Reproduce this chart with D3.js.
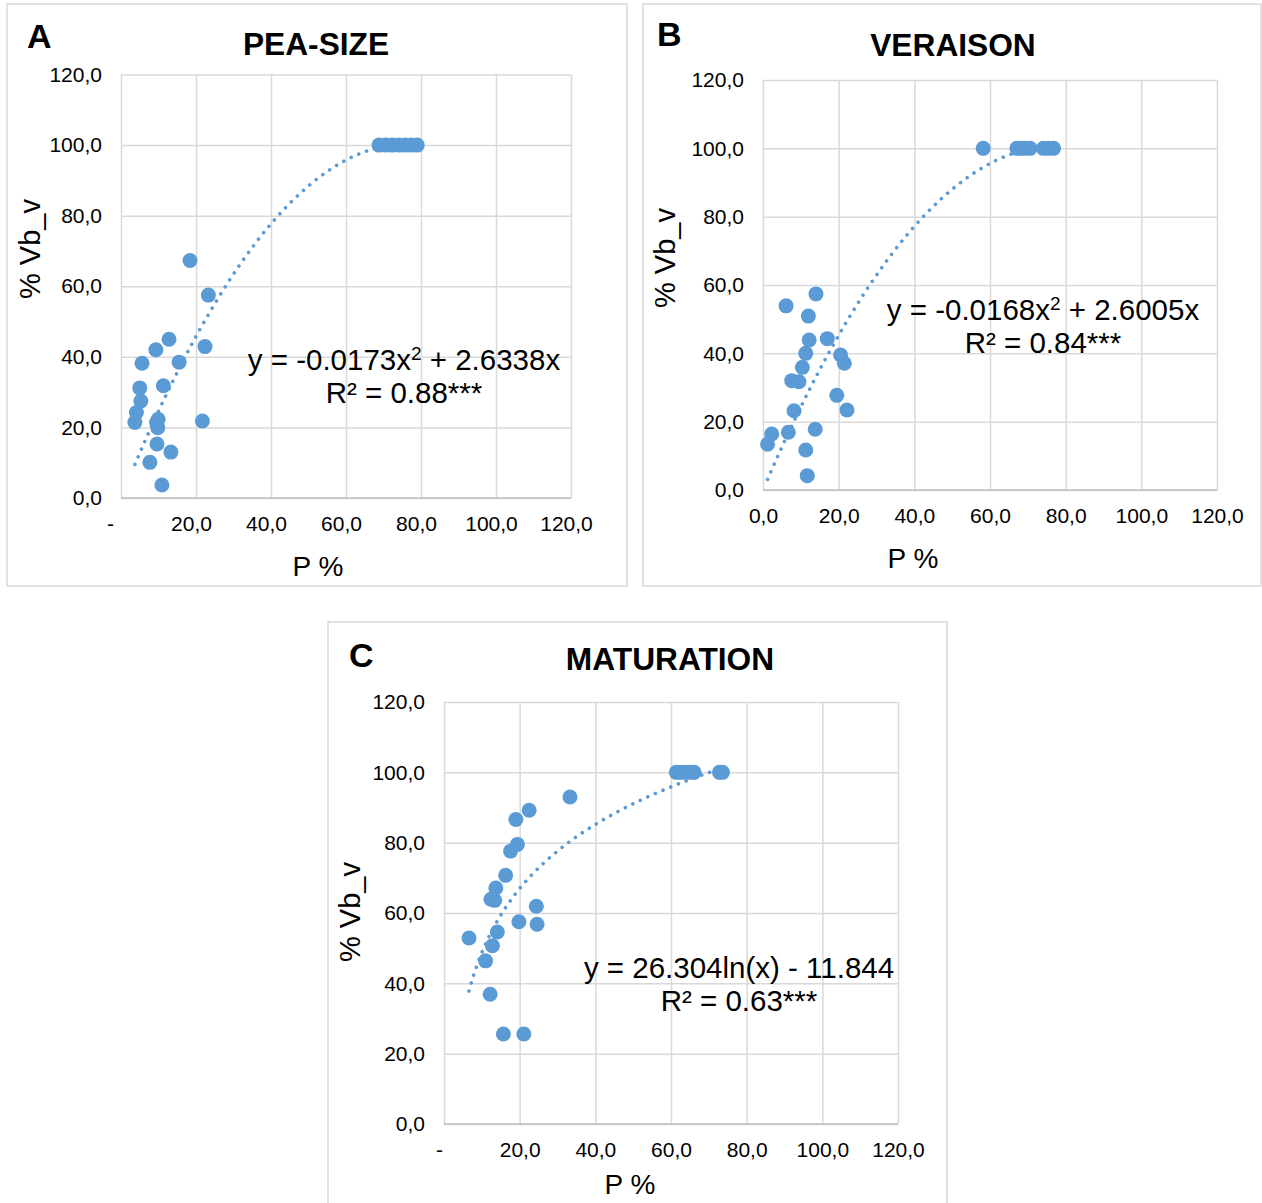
<!DOCTYPE html>
<html><head><meta charset="utf-8">
<script src="https://cdn.jsdelivr.net/npm/d3@7"></script>
<style>
body{margin:0;background:#fff}
text{font-family:"Liberation Sans",Arial,sans-serif;fill:#000}
</style>
</head><body>
<svg id="chart" width="1262" height="1203"></svg>
<script>
// ---------- data ----------
const xTicks = [0, 20, 40, 60, 80, 100, 120];
const yTicks = [0, 20, 40, 60, 80, 100, 120];

const peaSizeX = [18.4, 23.3, 12.8, 9.3, 5.6, 15.5, 22.4, 5.0, 11.3, 5.3, 4.1, 3.7, 9.9, 9.5, 9.8, 21.7, 9.6, 13.3, 7.7, 10.9,
                  68.8, 70.6, 72.3, 74.1, 75.8, 77.4, 79.0];
const peaSizeY = [67.3, 57.5, 45.0, 42.0, 38.2, 38.5, 42.9, 31.2, 31.8, 27.5, 24.2, 21.4, 22.3, 21.4, 19.9, 21.8, 15.3, 13.0, 10.1, 3.7,
                  100, 100, 100, 100, 100, 100, 100];
const peaSizeFit = [-0.0173, 2.6338];   // y = a x^2 + b x

const veraisonX = [14.0, 6.1, 12.0, 12.2, 17.0, 11.3, 20.5, 21.5, 10.4, 7.6, 9.5, 19.5, 8.2, 22.2, 2.3, 6.7, 13.8, 1.2, 11.3, 11.7,
                   58.2, 67.1, 68.2, 69.3, 70.6, 74.1, 75.4, 76.8];
const veraisonY = [57.4, 53.9, 50.9, 43.9, 44.3, 40.0, 39.5, 37.1, 35.9, 32.0, 31.7, 27.7, 23.2, 23.4, 16.4, 16.9, 17.8, 13.4, 11.7, 4.2,
                   100, 100, 100, 100, 100, 100, 100, 100];
const veraisonFit = [-0.0168, 2.6005];

const maturationX = [33.3, 22.5, 19.0, 19.4, 17.6, 16.3, 13.7, 12.4, 13.4, 24.4, 19.8, 24.6, 6.6, 14.1, 12.8, 11.0, 12.2, 15.7, 21.1,
                     61.4, 62.5, 63.6, 64.8, 66.1, 72.8, 73.6];
const maturationY = [93.0, 89.2, 86.6, 79.5, 77.6, 70.7, 67.1, 63.9, 63.6, 61.9, 57.5, 56.8, 52.9, 54.6, 50.7, 46.4, 36.9, 25.6, 25.6,
                     100, 100, 100, 100, 100, 100, 100];
const maturationFit = [26.304, -11.844]; // y = a ln(x) + b

// ---------- drawing ----------
const svg = d3.select("#chart");
const blue = "#5B9BD5";
const fmt = d => d.toFixed(1).replace(".", ",");

function drawPanel(p) {
  const g = svg.append("g");
  g.append("rect")
    .attr("x", p.frame[0]).attr("y", p.frame[1]).attr("width", p.frame[2]).attr("height", p.frame[3])
    .attr("fill", "#fff").attr("stroke", "#D9D9D9").attr("stroke-width", 1.5);

  const x = d3.scaleLinear().domain([0, 120]).range([p.L, p.R]);
  const y = d3.scaleLinear().domain([0, 120]).range([p.B, p.T]);

  // x grid + tick labels
  const xa = g.append("g").attr("transform", `translate(0,${p.B})`)
    .call(d3.axisBottom(x).tickValues(xTicks).tickSize(-(p.B - p.T)).tickPadding(18)
      .tickFormat(d => (d === 0 && p.dashZero) ? "-" : fmt(d)));
  xa.select(".domain").remove();
  xa.selectAll(".tick line").attr("stroke", "#D9D9D9").attr("stroke-width", 1.5);
  xa.selectAll(".tick text").attr("font-size", 21).attr("fill", "#000")
    .attr("dx", d => d === 0 ? p.zeroDx : p.labelDx);

  // y grid + tick labels
  const ya = g.append("g").attr("transform", `translate(${p.L},0)`)
    .call(d3.axisLeft(y).tickValues(yTicks).tickSize(-(p.R - p.L)).tickPadding(19).tickFormat(fmt));
  ya.select(".domain").remove();
  ya.selectAll(".tick line").attr("stroke", "#D9D9D9").attr("stroke-width", 1.5);
  ya.selectAll(".tick text").attr("font-size", 21).attr("fill", "#000");

  // bottom axis line
  g.append("line").attr("x1", p.L).attr("x2", p.R).attr("y1", y(0)).attr("y2", y(0))
    .attr("stroke", "#BFBFBF").attr("stroke-width", 1.5);

  // points
  const pts = p.xs.map((v, i) => [v, p.ys[i]]);
  g.append("g").selectAll("circle").data(pts).join("circle")
    .attr("cx", d => x(d[0])).attr("cy", d => y(d[1])).attr("r", 7.5).attr("fill", blue);

  // trendline
  const xmin = d3.min(p.xs), xmax = d3.max(p.xs);
  const samples = d3.range(0, 201).map(i => xmin + (xmax - xmin) * i / 200);
  const line = d3.line().x(d => x(d)).y(d => y(p.fit(d))).curve(d3.curveLinear);
  g.append("path").datum(samples).attr("d", line).attr("fill", "none")
    .attr("stroke", blue).attr("stroke-width", 3.6).attr("stroke-linecap", "round")
    .attr("stroke-dasharray", "0.01 8.3");

  // letter + title
  g.append("text").attr("x", p.letter[0]).attr("y", p.letter[1]).attr("font-size", 34)
    .attr("font-weight", "bold").text(p.letterText);
  g.append("text").attr("x", p.title[0]).attr("y", p.title[1]).attr("font-size", 31.7)
    .attr("font-weight", "bold").attr("text-anchor", "middle").text(p.titleText);

  // axis titles
  g.append("text").attr("x", p.xTitle[0]).attr("y", p.xTitle[1]).attr("font-size", 28)
    .attr("text-anchor", "middle").text("P %");
  g.append("text").attr("transform", `translate(${p.yTitle[0]},${p.yTitle[1]}) rotate(-90)`)
    .attr("font-size", 29).attr("text-anchor", "middle").attr("dominant-baseline", "central").text("% Vb_v");

  // equation
  const eq = g.append("text").attr("x", p.eq[0]).attr("y", p.eq[1]).attr("font-size", 29.5).attr("text-anchor", "middle");
  p.eqParts.forEach(part => {
    const t = eq.append("tspan").text(part.t);
    if (part.sup) t.attr("font-size", 19).attr("baseline-shift", "super");
  });
  g.append("text").attr("x", p.eq[0]).attr("y", p.eq[1] + 33).attr("font-size", 29.5)
    .attr("text-anchor", "middle").text(p.r2);
}

drawPanel({
  frame: [7, 4, 620, 582], L: 121, R: 571, T: 74.5, B: 498,
  xs: peaSizeX, ys: peaSizeY, fit: v => peaSizeFit[0] * v * v + peaSizeFit[1] * v,
  dashZero: true, zeroDx: -11, labelDx: -5,
  letter: [27, 48], letterText: "A", title: [316, 55], titleText: "PEA-SIZE",
  xTitle: [318, 576], yTitle: [30, 249],
  eq: [404, 370], eqParts: [{t: "y = -0.0173x"}, {t: "2", sup: true}, {t: " + 2.6338x"}], r2: "R² = 0.88***"
});

drawPanel({
  frame: [643, 4, 618, 582], L: 763, R: 1217, T: 80, B: 490,
  xs: veraisonX, ys: veraisonY, fit: v => veraisonFit[0] * v * v + veraisonFit[1] * v,
  dashZero: false, zeroDx: 0, labelDx: 0,
  letter: [657, 46], letterText: "B", title: [953, 56], titleText: "VERAISON",
  xTitle: [913, 568], yTitle: [665, 258],
  eq: [1043, 320], eqParts: [{t: "y = -0.0168x"}, {t: "2", sup: true}, {t: " + 2.6005x"}], r2: "R² = 0.84***"
});

drawPanel({
  frame: [328, 622, 619, 590], L: 444, R: 898, T: 702, B: 1124,
  xs: maturationX, ys: maturationY, fit: v => maturationFit[0] * Math.log(v) + maturationFit[1],
  dashZero: true, zeroDx: -5, labelDx: 0,
  letter: [349, 667], letterText: "C", title: [670, 670], titleText: "MATURATION",
  xTitle: [630, 1194], yTitle: [350, 912],
  eq: [739, 978], eqParts: [{t: "y = 26.304ln(x) - 11.844"}], r2: "R² = 0.63***"
});
</script>
</body></html>
